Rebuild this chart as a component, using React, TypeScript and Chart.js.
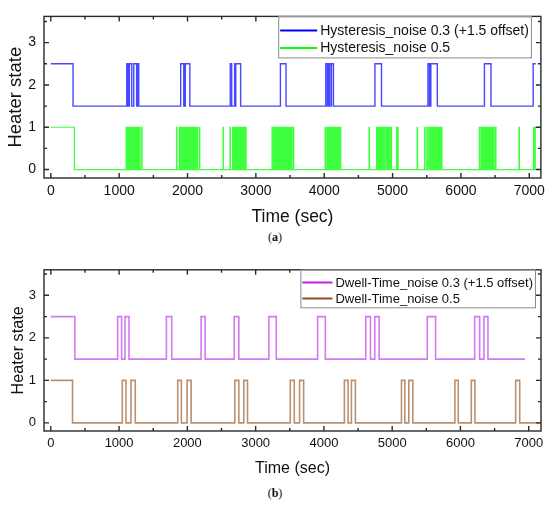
import { useRef, useEffect } from 'react';
import { Chart, registerables, ChartConfiguration, Plugin } from 'chart.js';

Chart.register(...registerables);

// switching times (sec); each entry flips the heater state, starting from ON
const hystNoise03Switch = [
  325, 1111, 1125, 1130, 1140, 1150, 1184, 1213, 1255, 1260, 1265, 1270, 1286,
  1900, 1945, 1955, 1962, 1968, 2034, 2625, 2646, 2689, 2700, 2706, 2777,
  3359, 3441, 4023, 4045, 4052, 4070, 4076, 4100, 4106, 4135, 4742, 4838,
  5518, 5540, 5548, 5553, 5560, 5655, 6344, 6440, 7057,
];
const hystNoise05Switch = [
  345,
  1102, 1110, 1118, 1124, 1131, 1138, 1146, 1150, 1158, 1165, 1172, 1180, 1190, 1196, 1204, 1212,
  1220, 1226, 1234, 1240, 1248, 1255, 1262, 1268, 1276, 1290, 1300, 1306, 1330, 1335,
  1839, 1845, 1880, 1886, 1893, 1900, 1906, 1912, 1920, 1926, 1933, 1940, 1946, 1953, 1960, 1966,
  1973, 1980, 1986, 1993, 2000, 2006, 2013, 2020, 2026, 2033, 2040, 2046, 2053, 2060, 2066, 2073,
  2080, 2086, 2093, 2100, 2106, 2113, 2120, 2126, 2140, 2146, 2172, 2179,
  2520, 2526,
  2621, 2627, 2660, 2666, 2672, 2679, 2686, 2692, 2699, 2706, 2712, 2719, 2726, 2732, 2739, 2746,
  2752, 2759, 2766, 2772, 2779, 2786, 2792, 2799, 2806, 2812, 2819, 2826, 2840, 2846, 2852, 2858,
  3237, 3243, 3262, 3268, 3275, 3282, 3289, 3295, 3302, 3308, 3315, 3322, 3329, 3335, 3342, 3349,
  3355, 3362, 3369, 3375, 3382, 3389, 3395, 3402, 3409, 3415, 3422, 3429, 3436, 3442, 3449, 3456,
  3470, 3476, 3483, 3490, 3497, 3503, 3520, 3526, 3547, 3553,
  4014, 4020, 4040, 4046, 4062, 4068, 4075, 4082, 4089, 4095, 4102, 4109, 4116, 4122, 4129, 4136,
  4143, 4149, 4156, 4163, 4170, 4176, 4183, 4190, 4197, 4203, 4210, 4217, 4234, 4241,
  4656, 4662,
  4766, 4772, 4779, 4786, 4792, 4799, 4806, 4812, 4819, 4826, 4832, 4839, 4846, 4852, 4870, 4876,
  4885, 4891, 4911, 4917, 4924, 4931, 4938, 4944, 4960, 4966, 4978, 4984, 5057, 5063, 5075, 5081,
  5360, 5366,
  5470, 5476, 5502, 5508, 5530, 5536, 5543, 5550, 5557, 5563, 5570, 5577, 5584, 5590, 5597, 5604,
  5611, 5617, 5624, 5631, 5638, 5644, 5651, 5658, 5665, 5671, 5678, 5685, 5692, 5698, 5716, 5722,
  6270, 6276, 6296, 6302, 6309, 6316, 6323, 6329, 6336, 6343, 6350, 6356, 6363, 6370, 6377, 6383,
  6390, 6397, 6404, 6410, 6417, 6424, 6431, 6437, 6444, 6451, 6458, 6464, 6480, 6486, 6507, 6513,
  6850, 6856,
  7062, 7068, 7075, 7081, 7088,
];
const dwellNoise03Switch = [
  352, 979, 1037, 1086, 1145, 1693, 1771, 2201, 2260, 2686, 2754, 3194, 3302,
  3908, 4021, 4613, 4682, 4745, 4809, 5514, 5636, 6208, 6281, 6344, 6403,
];
const dwellNoise05Switch = [
  318, 1047, 1101, 1174, 1237, 1859, 1912, 1996, 2055, 2695, 2754, 2827, 2881,
  3507, 3566, 3644, 3703, 4300, 4354, 4403, 4461, 5136, 5185, 5244, 5302,
  5919, 5968, 6159, 6212, 6809, 6868,
];
const hystEnd = [7095, 7095];
const dwellEnd = [6946, 7180];
const offset = 1.5;

const xMajor = [0, 1000, 2000, 3000, 4000, 5000, 6000, 7000];
const xMinor = [500, 1500, 2500, 3500, 4500, 5500, 6500];
const yMajor = [0, 1, 2, 3];
const yMinor = [0.5, 1.5, 2.5, 3.5];

const FONT = "'Liberation Sans', Arial, sans-serif";

function stepPoints(switches: number[], end: number, shift: number) {
  let s = 1;
  const pts = [{ x: 0, y: s + shift }];
  for (const t of switches) {
    s = 1 - s;
    pts.push({ x: t, y: s + shift });
  }
  pts.push({ x: end, y: s + shift });
  return pts;
}

interface LegendItem { label: string; color: string; }
interface Look {
  width: number; height: number; padTop: number; padRight: number; xAxisH: number;
  xMin: number; xMax: number; yMin: number; yMax: number;
  tickSize: number; xTitleSize: number; yTitleSize: number; yTitlePad: number;
  legendSize: number; legendLine: number; legendRowY: number[]; legendH: number; legendInset: number;
}

function framePlugin(look: Look): Plugin {
  return {
    id: 'frame',
    afterDraw(chart) {
      const { ctx, chartArea: a } = chart;
      const x = chart.scales.x, y = chart.scales.y;
      ctx.save();
      ctx.strokeStyle = '#2a2a2a';
      ctx.lineWidth = 1.4;
      ctx.strokeRect(a.left, a.top, a.right - a.left, a.bottom - a.top);
      ctx.beginPath();
      const xt = (v: number, len: number) => {
        const p = x.getPixelForValue(v);
        ctx.moveTo(p, a.bottom); ctx.lineTo(p, a.bottom - len);
        ctx.moveTo(p, a.top); ctx.lineTo(p, a.top + len);
      };
      const yt = (v: number, len: number) => {
        const p = y.getPixelForValue(v);
        ctx.moveTo(a.left, p); ctx.lineTo(a.left + len, p);
        ctx.moveTo(a.right, p); ctx.lineTo(a.right - len, p);
      };
      xMajor.forEach(v => xt(v, 5));
      xMinor.forEach(v => xt(v, 3));
      yMajor.forEach(v => yt(v, 5));
      yMinor.forEach(v => yt(v, 3));
      ctx.stroke();

      // legend box inside the plot, top right
      const items = (chart.options.plugins as any).boxLegend.items as LegendItem[];
      ctx.font = `${look.legendSize}px ${FONT}`;
      const tw = Math.max(...items.map(i => ctx.measureText(i.label).width));
      const w = 2 + look.legendLine + 3 + tw + 3;
      const right = a.right - look.legendInset;
      const left = right - w;
      ctx.fillStyle = '#fff';
      ctx.fillRect(left, a.top, w, look.legendH);
      ctx.strokeStyle = '#8a8a8a';
      ctx.lineWidth = 1;
      ctx.strokeRect(left + 0.5, a.top + 0.5, w - 1, look.legendH);
      items.forEach((it, i) => {
        const ry = a.top + look.legendRowY[i];
        ctx.strokeStyle = it.color;
        ctx.lineWidth = 2;
        ctx.beginPath();
        ctx.moveTo(left + 2, ry); ctx.lineTo(left + 2 + look.legendLine, ry);
        ctx.stroke();
        ctx.fillStyle = '#111';
        ctx.textBaseline = 'middle';
        ctx.fillText(it.label, left + 2 + look.legendLine + 3, ry + 0.5);
      });
      ctx.restore();
    },
  };
}

interface Props {
  look: Look;
  series: { data: { x: number; y: number }[]; color: string; width: number }[];
  legend: LegendItem[];
}

function HeaterChart({ look, series, legend }: Props) {
  const canvasRef = useRef<HTMLCanvasElement>(null);
  const chartRef = useRef<Chart | null>(null);

  useEffect(() => {
    if (!canvasRef.current) return;
    if (chartRef.current) chartRef.current.destroy();
    const config: ChartConfiguration = {
      type: 'line',
      data: {
        datasets: series.map(s => ({
          data: s.data,
          borderColor: s.color,
          borderWidth: s.width,
          stepped: true,
          pointRadius: 0,
          fill: false,
        })),
      },
      options: {
        animation: false,
        responsive: false,
        maintainAspectRatio: false,
        layout: { padding: { top: look.padTop, right: look.padRight, left: 0, bottom: 0 } },
        plugins: {
          legend: { display: false },
          tooltip: { enabled: false },
          boxLegend: { items: legend },
        } as any,
        scales: {
          x: {
            type: 'linear',
            min: look.xMin,
            max: look.xMax,
            afterBuildTicks: s => { s.ticks = xMajor.map(v => ({ value: v })); },
            afterFit: s => { s.height = look.xAxisH; },
            grid: { display: false, drawTicks: false },
            border: { display: false },
            ticks: {
              color: '#111', padding: 5, font: { family: FONT, size: look.tickSize },
              callback: v => String(v),
            },
            title: {
              display: true, text: 'Time (sec)', color: '#111', padding: { top: 0, bottom: 2 },
              font: { family: FONT, size: look.xTitleSize },
            },
          },
          y: {
            type: 'linear',
            min: look.yMin,
            max: look.yMax,
            afterBuildTicks: s => { s.ticks = yMajor.map(v => ({ value: v })); },
            afterFit: s => { s.width = 44; },
            grid: { display: false, drawTicks: false },
            border: { display: false },
            ticks: {
              color: '#111', padding: 8, font: { family: FONT, size: look.tickSize },
              callback: v => String(v),
            },
            title: {
              display: true, text: 'Heater state', color: '#111', padding: { top: look.yTitlePad, bottom: 0 },
              font: { family: FONT, size: look.yTitleSize },
            },
          },
        },
      },
      plugins: [framePlugin(look)],
    };
    chartRef.current = new Chart(canvasRef.current, config);
    return () => { chartRef.current?.destroy(); };
  }, [look, series, legend]);

  return (
    <canvas
      ref={canvasRef}
      width={look.width}
      height={look.height}
      style={{ display: 'block', width: look.width, height: look.height }}
    />
  );
}

const lookA: Look = {
  width: 550, height: 230, padTop: 10, padRight: 7, xAxisH: 52,
  xMin: -100, xMax: 7170, yMin: -0.2, yMax: 3.62,
  tickSize: 14, xTitleSize: 17.5, yTitleSize: 18.5, yTitlePad: 5,
  legendSize: 14, legendLine: 37, legendRowY: [14, 31.5], legendH: 41, legendInset: 9,
};
const lookB: Look = {
  width: 550, height: 226, padTop: 10, padRight: 9, xAxisH: 49,
  xMin: -100, xMax: 7180, yMin: -0.19, yMax: 3.6,
  tickSize: 13, xTitleSize: 16, yTitleSize: 16.2, yTitlePad: 9,
  legendSize: 13, legendLine: 30, legendRowY: [12.7, 28.7], legendH: 37.5, legendInset: 5,
};

const seriesA = [
  { data: stepPoints(hystNoise03Switch, hystEnd[0], offset), color: '#4747ff', width: 1.4 },
  { data: stepPoints(hystNoise05Switch, hystEnd[1], 0), color: '#3dff3d', width: 1.2 },
];
const seriesB = [
  { data: stepPoints(dwellNoise03Switch, dwellEnd[0], offset), color: '#d27af2', width: 1.6 },
  { data: stepPoints(dwellNoise05Switch, dwellEnd[1], 0), color: '#bb9070', width: 1.6 },
];
const legendA = [
  { label: 'Hysteresis_noise 0.3 (+1.5 offset)', color: '#0000ff' },
  { label: 'Hysteresis_noise 0.5', color: '#00ff00' },
];
const legendB = [
  { label: 'Dwell-Time_noise 0.3 (+1.5 offset)', color: '#c21fe6' },
  { label: 'Dwell-Time_noise 0.5', color: '#8e4f25' },
];

const caption: React.CSSProperties = {
  position: 'absolute', left: 0, width: 550, textAlign: 'center',
  fontFamily: "'Liberation Serif', 'Times New Roman', serif", fontSize: 12, color: '#111',
};

export default function App() {
  return (
    <div style={{ position: 'absolute', left: 0, top: 0, width: 550, height: 509, background: '#fff' }}>
      <div style={{ position: 'absolute', left: 0, top: 0 }}>
        <HeaterChart look={lookA} series={seriesA} legend={legendA} />
      </div>
      <div style={{ ...caption, top: 230 }}>(<b>a</b>)</div>
      <div style={{ position: 'absolute', left: 0, top: 254 }}>
        <HeaterChart look={lookB} series={seriesB} legend={legendB} />
      </div>
      <div style={{ ...caption, top: 486 }}>(<b>b</b>)</div>
    </div>
  );
}
